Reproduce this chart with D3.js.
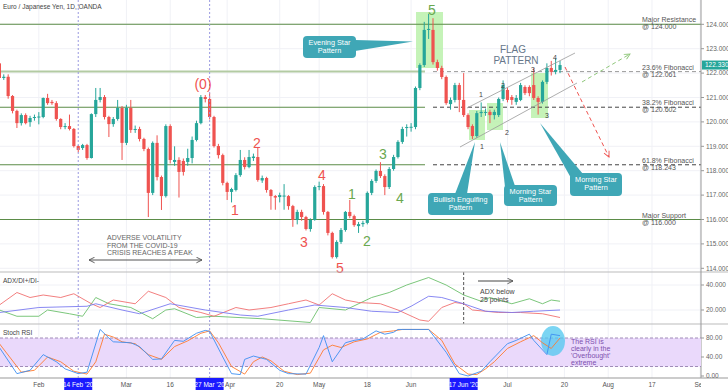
<!DOCTYPE html>
<html>
<head>
<meta charset="utf-8">
<script src="https://cdn.jsdelivr.net/npm/d3@7"></script>
<style>
  body { margin: 0; background: #fff; }
  svg { display: block; font-family: "Liberation Sans", Arial, sans-serif; }
</style>
</head>
<body>
<script>
// daily EUR/JPY candles, [open, high, low, close], one row per trading day from 21 Jan 2020
var jan = [
  [122.40, 122.55, 121.72, 121.80], [121.80, 121.95, 121.72, 121.85], [121.85, 121.95, 120.95, 121.06],
  [121.06, 121.10, 120.35, 120.45], [120.45, 120.50, 119.75, 119.95], [119.95, 120.35, 119.85, 120.28],
  [120.28, 120.35, 119.90, 119.95], [119.99, 120.25, 119.80, 120.16], [120.16, 120.30, 120.05, 120.20]
]
var feb = [
  [120.18, 120.40, 119.90, 120.22], [120.20, 121.00, 120.15, 120.98], [120.98, 121.15, 120.70, 120.77],
  [120.82, 120.90, 120.70, 120.77], [120.77, 120.85, 120.05, 120.12], [120.12, 120.15, 119.70, 119.79],
  [119.79, 119.95, 119.70, 119.83], [119.83, 120.30, 119.65, 119.71], [119.71, 119.75, 118.95, 119.01],
  [119.01, 119.05, 118.75, 118.85], [118.93, 119.10, 118.85, 119.05], [119.05, 119.10, 118.45, 118.52],
  [118.52, 120.35, 118.50, 120.32], [120.32, 121.39, 120.20, 120.90], [120.90, 121.39, 120.80, 121.02],
  [121.02, 121.10, 120.10, 120.20], [120.20, 120.25, 119.38, 119.91], [119.91, 120.20, 119.80, 120.12],
  [120.12, 120.90, 120.05, 120.57], [120.57, 120.65, 118.44, 119.14]
]
var mar = [
  [119.14, 120.70, 119.05, 120.57], [120.57, 120.90, 119.55, 119.67], [119.67, 119.85, 119.55, 119.71],
  [119.71, 119.80, 119.20, 119.30], [119.30, 119.35, 118.80, 118.89], [118.89, 118.95, 116.10, 117.09],
  [117.09, 119.20, 117.00, 119.14], [119.14, 119.45, 117.60, 117.74], [117.74, 117.80, 116.39, 116.96],
  [116.96, 119.90, 116.90, 119.83], [119.83, 119.90, 118.30, 118.44], [118.36, 119.00, 118.20, 118.44],
  [118.44, 118.55, 116.90, 117.95], [118.40, 118.50, 117.80, 117.95], [118.36, 118.90, 118.20, 118.52],
  [118.52, 119.40, 118.30, 119.26], [119.26, 120.05, 119.20, 119.95], [119.95, 121.10, 119.90, 121.02],
  [121.02, 121.10, 120.80, 120.94], [120.94, 121.20, 120.10, 120.20], [120.20, 120.25, 118.95, 119.01],
  [119.01, 119.10, 118.50, 118.64]
]
var apr = [
  [118.64, 118.70, 117.40, 117.50], [117.50, 117.55, 116.80, 117.13], [117.13, 117.30, 116.70, 117.25],
  [117.21, 117.90, 117.15, 117.82], [117.82, 118.85, 117.75, 118.44], [118.44, 118.55, 118.05, 118.15],
  [118.15, 118.85, 118.10, 118.56], [118.52, 118.70, 118.40, 118.58], [118.56, 118.97, 117.55, 117.62],
  [117.60, 117.80, 117.50, 117.70], [117.70, 117.75, 117.10, 117.21], [117.21, 117.25, 116.40, 116.96],
  [116.96, 117.00, 116.40, 116.90], [116.92, 117.10, 116.70, 117.00], [116.94, 117.45, 116.40, 116.98],
  [116.96, 117.00, 116.40, 116.55], [116.55, 116.60, 115.70, 115.98], [115.98, 116.40, 115.80, 116.31],
  [116.31, 116.40, 115.95, 116.10], [116.10, 116.15, 115.55, 115.61], [115.61, 116.05, 115.50, 115.98],
  [115.98, 117.40, 115.95, 117.33]
]
var may = [
  [117.33, 117.55, 117.20, 117.37], [117.37, 117.45, 116.20, 116.31], [116.31, 116.35, 115.35, 115.45],
  [115.45, 115.50, 114.40, 114.46], [114.46, 115.15, 114.40, 115.08], [115.08, 115.65, 115.00, 115.57],
  [115.57, 116.35, 115.50, 116.31], [116.31, 116.80, 116.05, 116.14], [116.14, 116.20, 115.70, 115.77],
  [115.73, 115.90, 115.45, 115.81], [115.81, 115.95, 115.70, 115.86], [115.86, 117.15, 115.80, 117.09],
  [117.09, 117.65, 117.00, 117.58], [117.58, 118.05, 117.50, 117.99], [117.99, 118.35, 117.70, 117.78],
  [117.78, 117.85, 117.00, 117.33], [117.33, 118.15, 117.25, 118.07], [118.07, 118.65, 118.00, 118.56],
  [118.56, 119.25, 118.50, 119.18], [119.18, 119.80, 119.10, 119.71], [119.75, 119.90, 119.40, 119.79]
]
var jun = [
  [119.76, 119.95, 119.60, 119.80], [119.79, 121.45, 119.70, 121.39], [121.39, 122.40, 121.30, 122.33],
  [122.33, 124.10, 122.25, 123.77], [123.77, 124.43, 123.40, 123.81], [123.77, 124.25, 122.35, 122.45],
  [122.45, 122.55, 122.10, 122.21], [122.21, 122.30, 121.75, 121.84], [121.84, 121.90, 120.70, 120.77],
  [120.73, 121.00, 120.50, 120.90], [120.90, 121.60, 120.80, 121.51], [121.51, 121.60, 120.40, 120.90],
  [120.90, 122.00, 120.20, 120.28], [120.28, 120.35, 119.70, 119.79], [119.83, 119.90, 119.30, 119.42],
  [119.42, 120.45, 119.35, 120.36], [120.36, 120.80, 120.20, 120.41], [120.38, 120.55, 120.25, 120.41],
  [120.41, 120.50, 119.95, 120.28], [120.28, 120.50, 120.10, 120.41], [120.28, 121.00, 120.20, 120.94],
  [120.94, 121.70, 120.85, 121.51]
]
var jul = [
  [121.31, 121.40, 120.80, 120.90], [121.02, 121.10, 120.70, 120.90], [120.82, 121.10, 120.70, 120.98],
  [120.90, 121.60, 120.85, 121.51], [121.43, 121.50, 121.10, 121.18], [121.43, 121.50, 121.05, 121.18],
  [121.51, 122.20, 120.90, 120.98], [120.98, 121.05, 120.30, 120.82], [120.82, 121.70, 120.75, 121.64],
  [121.64, 122.40, 121.55, 122.21], [122.21, 122.50, 121.90, 122.05], [122.05, 122.60, 121.95, 122.13],
  [122.13, 122.50, 122.00, 122.33]
]

// ADX / DI+ / DI- as [trading day, value]
var adxLine = [[0, 18], [9, 22], [20, 23], [22, 25], [28, 20], [32, 17], [39, 25], [47, 20], [55, 16], [59, 15],
  [66, 20], [72, 24], [79, 22], [85, 19], [91, 18], [94, 23], [98, 31], [101, 30], [106, 25], [111, 19], [117, 18],
  [122, 19], [128, 20]]
var diPlus = [[0, 20], [4, 15], [9, 15], [11, 20], [16, 17], [19, 15], [22, 30], [25, 25], [30, 22], [35, 13],
  [38, 20], [40, 21], [45, 14], [49, 15], [60, 13], [71, 10], [73, 22], [79, 20], [85, 30], [89, 34], [93, 40],
  [98, 46], [102, 40], [106, 32], [110, 27], [112, 30], [117, 25], [121, 29], [124, 25], [126, 28], [128, 27]]
var diMinus = [[0, 24], [4, 34], [7, 30], [10, 32], [14, 30], [17, 33], [21, 25], [23, 22], [26, 28], [31, 25],
  [34, 35], [38, 30], [41, 22], [46, 18], [49, 15], [54, 22], [57, 20], [62, 22], [66, 25], [70, 28], [73, 24],
  [76, 33], [79, 28], [82, 26], [87, 25], [91, 20], [96, 12], [98, 11], [101, 22], [104, 26], [106, 25], [108, 20],
  [114, 18], [119, 18], [124, 17], [128, 14]]

// Stoch RSI %K and %D as [trading day, value]
var stochK = [[0, 60], [4, 5], [7, 12], [10, 45], [13, 30], [15, 15], [18, 5], [20, 8], [23, 98], [25, 80],
  [26, 72], [30, 70], [32, 62], [35, 35], [37, 36], [40, 75], [42, 73], [45, 90], [47, 96], [48, 94], [51, 40],
  [53, 5], [55, 3], [56, 35], [58, 42], [61, 35], [64, 12], [66, 5], [70, 4], [73, 60], [74, 85], [76, 30],
  [79, 70], [81, 75], [83, 78], [86, 95], [88, 88], [90, 92], [91, 98], [98, 98], [102, 50], [105, 5], [107, 0],
  [110, 10], [112, 30], [116, 68], [118, 75], [121, 88], [122, 75], [125, 45], [126, 88], [128, 85]]
var stochD = [[0, 68], [5, 8], [8, 12], [11, 40], [14, 30], [17, 10], [20, 4], [22, 30], [24, 88], [26, 82],
  [28, 72], [31, 68], [34, 45], [37, 35], [40, 62], [43, 74], [46, 90], [48, 95], [50, 70], [53, 20], [56, 4],
  [58, 30], [60, 40], [62, 32], [65, 10], [68, 3], [71, 6], [74, 55], [76, 65], [78, 60], [81, 72], [84, 78],
  [87, 92], [90, 95], [92, 98], [98, 98], [101, 75], [104, 25], [107, 4], [109, 3], [111, 15], [113, 30],
  [116, 58], [119, 72], [122, 85], [124, 70], [126, 58], [128, 80]]

var levels = [124, 122.061, 120.602, 118.243, 116]
var levelNames = ['Major Resistance', '23.6% Fibonacci', '38.2% Fibonacci', '61.8% Fibonacci', 'Major Support']
var levelTexts = ['124.000', '122.061', '120.602', '118.243', '116.000']
var priceTicks = [114, 115, 116, 117, 118, 119, 120, 121, 122, 123, 124]

var tickDays = ['2020-02-03', '2020-03-02', '2020-03-16', '2020-04-02', '2020-04-20', '2020-05-01', '2020-05-18',
  '2020-06-01', '2020-07-01', '2020-07-20', '2020-08-03', '2020-08-17', '2020-09-01']
var tickLabels = ['Feb', 'Mar', '16', 'Apr', '20', 'May', '18', 'Jun', 'Jul', '20', 'Aug', '17', 'Sep']
var markDays = ['2020-02-14', '2020-03-27', '2020-06-17']
var markLabels = ['14 Feb \'20', '27 Mar \'20', '17 Jun \'20']

var W = 728
var H = 391
var R = 701
var up = '#26a69a'
var down = '#ef5350'

var parse = d3.timeParse('%Y-%m-%d')
var days = d3.timeDay.range(new Date(2020, 0, 21), new Date(2020, 8, 5))
  .filter(function (d) { return d.getDay() > 0 && d.getDay() < 6 })
function dayOf (s) {
  var t = +parse(s)
  return days.findIndex(function (d) { return +d === t })
}

var candles = [].concat(jan, feb, mar, apr, may, jun, jul).map(function (d, i) {
  return { i: i, o: d[0], h: d[1], l: d[2], c: d[3] }
})

var x = d3.scaleLinear().domain([0, 129]).range([-0.6, 564.4])
var y = d3.scaleLinear().domain([114, 124]).range([268.3, 24.3])
var yAdx = d3.scaleLinear().domain([20, 40]).range([310, 285])
var yStoch = d3.scaleLinear().domain([0, 80]).range([376, 338])

var svg = d3.select('body').append('svg').attr('width', W).attr('height', H)
var defs = svg.append('defs')
defs.append('clipPath').attr('id', 'cm').append('rect').attr('width', R).attr('height', 272)
defs.append('clipPath').attr('id', 'ca').append('rect').attr('y', 272).attr('width', R).attr('height', 52)
defs.append('clipPath').attr('id', 'cs').append('rect').attr('y', 324).attr('width', R).attr('height', 54)
defs.append('clipPath').attr('id', 'cx').append('rect').attr('y', 378).attr('width', R).attr('height', 13)
function marker (id, color) {
  defs.append('marker').attr('id', id).attr('viewBox', '0 0 10 10').attr('refX', 9).attr('refY', 5)
    .attr('markerWidth', 7).attr('markerHeight', 7).attr('orient', 'auto-start-reverse')
    .append('path').attr('d', 'M1,1L9,5L1,9').attr('fill', 'none').attr('stroke', color).attr('stroke-width', 1.3)
}
marker('ag', '#555')
marker('agr', '#8fc77a')
marker('ar', '#ef5350')

// grid
var grid = svg.append('g').attr('stroke', '#f0f1f6').attr('stroke-width', 1)
grid.selectAll('line.h').data(priceTicks).enter().append('line')
  .attr('x1', 0).attr('x2', R).attr('y1', function (d) { return y(d) }).attr('y2', function (d) { return y(d) })
grid.selectAll('line.v').data(tickDays).enter().append('line')
  .attr('x1', function (d) { return x(dayOf(d)) }).attr('x2', function (d) { return x(dayOf(d)) })
  .attr('y1', 0).attr('y2', 378)
grid.selectAll('line.a').data([20, 40]).enter().append('line')
  .attr('x1', 0).attr('x2', R).attr('y1', function (d) { return yAdx(d) }).attr('y2', function (d) { return yAdx(d) })

var main = svg.append('g').attr('clip-path', 'url(#cm)')

// pattern highlight boxes
var boxes = [[416, 443, 12, 68], [469, 485, 110, 140], [487, 503, 103, 130], [531, 548, 73, 118]]
main.selectAll('rect.box').data(boxes).enter().append('rect')
  .attr('x', function (d) { return d[0] }).attr('width', function (d) { return d[1] - d[0] })
  .attr('y', function (d) { return d[2] }).attr('height', function (d) { return d[3] - d[2] })
  .attr('fill', '#b6f0a6').attr('opacity', 0.8)

// horizontal levels: solid up to the June high, dashed afterwards for the fibonacci ones
var cut = 425
levels.forEach(function (lv, k) {
  var fib = k > 0 && k < 4
  var col = k === 1 ? '#b3cba3' : '#5b8c47'
  main.append('line').attr('x1', 0).attr('x2', fib ? cut : R).attr('y1', y(lv)).attr('y2', y(lv))
    .attr('stroke', col).attr('stroke-width', k === 1 ? 2 : 1.1)
  if (fib) {
    main.append('line').attr('x1', cut + 8).attr('x2', R).attr('y1', y(lv)).attr('y2', y(lv))
      .attr('stroke', k === 1 ? '#999' : '#444').attr('stroke-width', 1).attr('stroke-dasharray', '4,3')
  }
})

// marked dates
markDays.forEach(function (d, k) {
  var xx = x(dayOf(d))
  if (k < 2) {
    svg.append('line').attr('x1', xx).attr('x2', xx).attr('y1', 0).attr('y2', 378)
      .attr('stroke', '#9a9ae0').attr('stroke-dasharray', '2,2')
  } else {
    svg.append('line').attr('x1', xx).attr('x2', xx).attr('y1', 272).attr('y2', 324)
      .attr('stroke', '#555').attr('stroke-dasharray', '3,2')
  }
})

// candles
var cg = main.selectAll('g.c').data(candles).enter().append('g')
cg.append('line')
  .attr('x1', function (d) { return x(d.i) }).attr('x2', function (d) { return x(d.i) })
  .attr('y1', function (d) { return y(d.h) }).attr('y2', function (d) { return y(d.l) })
  .attr('stroke', function (d) { return d.c >= d.o ? up : down })
cg.append('rect')
  .attr('x', function (d) { return x(d.i) - 1.6 }).attr('width', 3.2)
  .attr('y', function (d) { return y(Math.max(d.o, d.c)) })
  .attr('height', function (d) { return Math.max(1, Math.abs(y(d.o) - y(d.c))) })
  .attr('fill', function (d) { return d.c >= d.o ? up : down })

// flag channel and projections
main.append('line').attr('x1', 467).attr('y1', 108).attr('x2', 575).attr('y2', 53).attr('stroke', '#999').attr('stroke-width', 0.8)
main.append('line').attr('x1', 460).attr('y1', 147).attr('x2', 577).attr('y2', 83).attr('stroke', '#999').attr('stroke-width', 0.8)
main.append('line').attr('x1', 582).attr('y1', 82).attr('x2', 630).attr('y2', 54)
  .attr('stroke', '#8fc77a').attr('stroke-dasharray', '4,3').attr('marker-end', 'url(#agr)')
main.append('line').attr('x1', 565).attr('y1', 67).attr('x2', 609).attr('y2', 157)
  .attr('stroke', '#ef5350').attr('stroke-dasharray', '4,3').attr('marker-end', 'url(#ar)')

// wave counts
var waves = [['(0)', 203, 89, down], ['1', 235, 215, down], ['2', 257, 148, down], ['3', 304, 247, down],
  ['4', 322, 180, down], ['5', 340, 273, down], ['1', 352, 199, '#6aa84f'], ['2', 367, 246, '#6aa84f'],
  ['3', 383, 159, '#6aa84f'], ['4', 400, 203, '#6aa84f'], ['5', 432, 15, '#6aa84f']]
svg.selectAll('text.w').data(waves).enter().append('text')
  .attr('x', function (d) { return d[1] }).attr('y', function (d) { return d[2] })
  .attr('text-anchor', 'middle').attr('font-size', 14).attr('fill', function (d) { return d[3] })
  .text(function (d) { return d[0] })

var flagNums = [['1', 481, 97], ['2', 503, 88], ['3', 533, 72], ['4', 555, 60], ['1', 482, 149], ['2', 507, 135], ['3', 547, 118]]
svg.selectAll('text.f').data(flagNums).enter().append('text')
  .attr('x', function (d) { return d[1] }).attr('y', function (d) { return d[2] })
  .attr('text-anchor', 'middle').attr('font-size', 7).attr('fill', '#444').text(function (d) { return d[0] })
svg.append('text').attr('x', 513).attr('y', 53).attr('text-anchor', 'middle').attr('font-size', 10)
  .attr('fill', '#66778a').text('FLAG')
svg.append('text').attr('x', 516).attr('y', 64).attr('text-anchor', 'middle').attr('font-size', 10)
  .attr('fill', '#66778a').text('PATTERN')

// callouts
var callouts = [
  { r: [303, 36, 53, 22], p: [[355, 40], [413, 41.5], [355, 51]], t: ['Evening Star', 'Pattern'] },
  { r: [428, 193, 65, 22], p: [[455, 194], [467, 194], [475, 142]], t: ['Bullish Engulfing', 'Pattern'] },
  { r: [504, 185, 53, 21], p: [[505, 187], [515, 186], [500, 142]], t: ['Morning Star', 'Pattern'] },
  { r: [570, 173, 52, 23], p: [[571, 178], [583, 174], [540, 123]], t: ['Morning Star', 'Pattern'] }
]
callouts.forEach(function (c) {
  svg.append('polygon').attr('points', c.p.join(' ')).attr('fill', '#3fa7b6')
  svg.append('rect').attr('x', c.r[0]).attr('y', c.r[1]).attr('width', c.r[2]).attr('height', c.r[3])
    .attr('rx', 4).attr('fill', '#3fa7b6')
  c.t.forEach(function (s, k) {
    svg.append('text').attr('x', c.r[0] + c.r[2] / 2).attr('y', c.r[1] + 9 + k * 8)
      .attr('text-anchor', 'middle').attr('font-size', 7.3).attr('fill', '#fff').text(s)
  })
})

// level captions
levels.forEach(function (lv, k) {
  var t = svg.append('text').attr('x', 642).attr('font-size', 7).attr('fill', '#555')
  t.append('tspan').attr('x', 642).attr('y', y(lv) - 2).text(levelNames[k])
  t.append('tspan').attr('x', 642).attr('y', y(lv) + 5).text('@ ' + levelTexts[k])
})

// covid note
var note = ['ADVERSE VOLATILITY', 'FROM THE COVID-19', 'CRISIS REACHES A PEAK']
note.forEach(function (s, k) {
  svg.append('text').attr('x', 107).attr('y', 240 + k * 7.5).attr('font-size', 7).attr('fill', '#666').text(s)
})
svg.append('line').attr('x1', 89).attr('x2', 202).attr('y1', 260).attr('y2', 260).attr('stroke', '#555')
  .attr('marker-start', 'url(#ag)').attr('marker-end', 'url(#ag)')

svg.append('text').attr('x', 3).attr('y', 9).attr('font-size', 6.5).attr('fill', '#444')
  .text('Euro / Japanese Yen, 1D, OANDA')

// panels
svg.append('line').attr('x1', 0).attr('x2', W).attr('y1', 272).attr('y2', 272).attr('stroke', '#bbb')
svg.append('line').attr('x1', 0).attr('x2', W).attr('y1', 324).attr('y2', 324).attr('stroke', '#bbb')
svg.append('line').attr('x1', 0).attr('x2', W).attr('y1', 378).attr('y2', 378).attr('stroke', '#999')
svg.append('line').attr('x1', R).attr('x2', R).attr('y1', 0).attr('y2', 378).attr('stroke', '#999')

var line = function (sc) {
  return d3.line().x(function (d) { return x(d[0]) }).y(function (d) { return sc(d[1]) })
}
var ag = svg.append('g').attr('clip-path', 'url(#ca)').attr('fill', 'none').attr('stroke-width', 0.9)
ag.append('path').attr('d', line(yAdx)(diPlus)).attr('stroke', '#6cbf6c')
ag.append('path').attr('d', line(yAdx)(diMinus)).attr('stroke', '#f07070')
ag.append('path').attr('d', line(yAdx)(adxLine)).attr('stroke', '#7a7af0')
svg.append('text').attr('x', 3).attr('y', 283).attr('font-size', 6.5).attr('fill', '#444').text('ADX/DI+/DI-')
svg.append('line').attr('x1', 478).attr('x2', 513).attr('y1', 281).attr('y2', 281).attr('stroke', '#444')
  .attr('marker-end', 'url(#ag)')
svg.append('text').attr('x', 480).attr('y', 294).attr('font-size', 7).attr('fill', '#444').text('ADX below')
svg.append('text').attr('x', 480).attr('y', 301.5).attr('font-size', 7).attr('fill', '#444').text('25 points')

var sg = svg.append('g').attr('clip-path', 'url(#cs)')
sg.append('rect').attr('x', 0).attr('width', R).attr('y', yStoch(80)).attr('height', yStoch(20) - yStoch(80))
  .attr('fill', '#ead9fb')
sg.selectAll('line.b').data([80, 20]).enter().append('line')
  .attr('x1', 0).attr('x2', R).attr('y1', function (d) { return yStoch(d) }).attr('y2', function (d) { return yStoch(d) })
  .attr('stroke', '#a08cb8').attr('stroke-dasharray', '3,2')
sg.append('ellipse').attr('cx', 553).attr('cy', 341).attr('rx', 12).attr('ry', 15).attr('fill', '#4fc7ef').attr('opacity', 0.75)
sg.append('path').attr('d', line(yStoch)(stochD)).attr('fill', 'none').attr('stroke', '#ff7a2f').attr('stroke-width', 0.9)
sg.append('path').attr('d', line(yStoch)(stochK)).attr('fill', 'none').attr('stroke', '#3d8ef0').attr('stroke-width', 0.9)
svg.append('text').attr('x', 3).attr('y', 335).attr('font-size', 6.5).attr('fill', '#444').text('Stoch RSI')
var rsiNote = ['The RSI is', 'clearly in the', '\'Overbought\'', 'extreme']
rsiNote.forEach(function (s, k) {
  svg.append('text').attr('x', 571).attr('y', 344 + k * 7).attr('font-size', 7).attr('fill', '#7d4fae').text(s)
})

// right axes
var ra = svg.append('g').attr('font-size', 6.5).attr('fill', '#666')
function rightTicks (vals, sc, fmt) {
  vals.forEach(function (v) {
    ra.append('line').attr('x1', R).attr('x2', R + 3).attr('y1', sc(v)).attr('y2', sc(v)).attr('stroke', '#999')
    ra.append('text').attr('x', R + 5).attr('y', sc(v) + 2.3).text(fmt(v))
  })
}
rightTicks(priceTicks, y, d3.format('.3f'))
rightTicks([20, 40], yAdx, d3.format('.3f'))
rightTicks([0, 40, 80], yStoch, d3.format('.2f'))
var last = candles[candles.length - 1]
svg.append('rect').attr('x', R + 1).attr('y', y(last.c) - 4.5).attr('width', 26).attr('height', 9).attr('fill', up)
svg.append('text').attr('x', R + 4).attr('y', y(last.c) + 2.3).attr('font-size', 6.5).attr('fill', '#fff')
  .text(d3.format('.3f')(last.c))

// bottom axis
var xa = svg.append('g').attr('clip-path', 'url(#cx)')
tickDays.forEach(function (d, k) {
  xa.append('text').attr('x', x(dayOf(d)) + (tickLabels[k] === 'Apr' ? 3 : 0)).attr('y', 387).attr('text-anchor', 'middle')
    .attr('font-size', 6.5).attr('fill', '#555').text(tickLabels[k])
})
markDays.forEach(function (d, k) {
  var xx = x(dayOf(d))
  svg.append('rect').attr('x', xx - 14).attr('y', 378).attr('width', 28).attr('height', 12).attr('fill', '#1a1aff')
  svg.append('text').attr('x', xx).attr('y', 387).attr('text-anchor', 'middle').attr('font-size', 6.5)
    .attr('fill', '#fff').text(markLabels[k])
})
</script>
</body>
</html>
